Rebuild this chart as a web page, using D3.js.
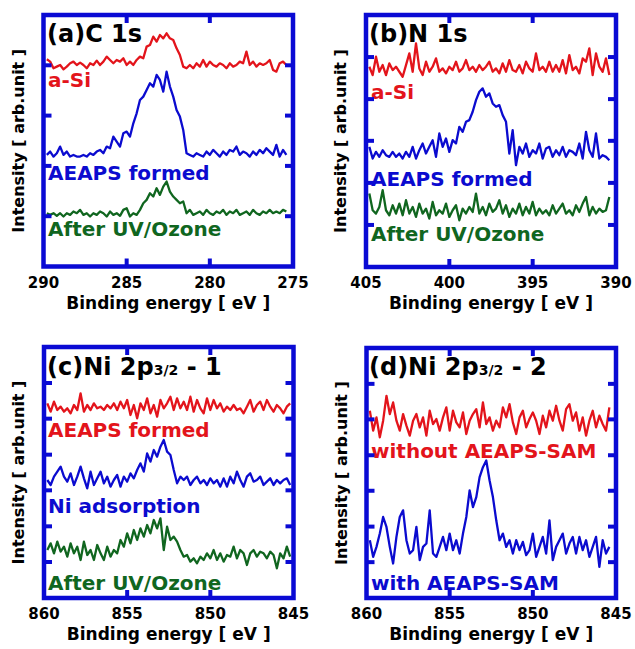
<!DOCTYPE html>
<html>
<head>
<meta charset="utf-8">
<script src="https://cdn.jsdelivr.net/npm/d3@7"></script>
<style>
  body { margin: 0; background: #fff; }
  text { font-family: "DejaVu Sans", sans-serif; font-weight: bold; }
</style>
</head>
<body>
<svg width="635" height="649"></svg>
<script>
// spectra, 0.2 eV steps starting at the left edge
var c1sASi = [622,615,595,600,605,592,600,610,615,605,
  612,605,595,610,605,618,605,615,630,620,
  610,620,615,625,605,615,605,620,630,625,
  660,665,690,675,695,685,700,685,680,655,
  635,600,595,605,595,610,600,620,600,615,
  605,600,610,605,595,610,600,605,615,610,
  645,605,615,600,610,605,610,620,590,585,
  610,615,605];
var c1sSAM = [335,345,330,340,360,335,345,330,335,330,
  330,335,330,340,335,345,350,340,360,355,
  390,375,360,400,405,390,430,460,500,510,
  530,550,540,575,560,525,585,540,510,470,
  450,410,340,335,330,340,335,330,345,335,
  350,340,330,345,335,350,345,360,335,345,
  340,330,345,335,350,340,355,345,335,365,
  330,350,335];
var c1sUV = [160,155,160,152,160,150,160,155,165,160,
  170,155,160,150,160,155,165,160,150,165,
  155,160,152,170,175,150,160,155,170,190,
  200,220,210,235,215,240,255,225,210,200,
  190,195,160,170,155,160,165,155,170,160,
  155,165,160,170,155,165,160,170,155,160,
  165,155,170,160,155,165,160,170,160,165,
  160,170,165];

var n1sASi = [600,575,630,585,605,575,610,590,600,585,
  570,605,640,585,670,595,575,615,585,600,
  625,585,595,580,600,590,615,585,595,620,
  590,600,585,605,590,600,615,585,595,580,
  610,585,620,590,585,605,580,615,595,585,
  640,590,600,585,615,585,605,585,620,580,
  635,590,600,580,625,615,655,575,640,600,
  585,625,575];
var n1sSAM = [360,325,345,330,350,335,330,345,330,340,
  325,345,330,360,325,350,370,340,360,380,
  330,400,360,385,345,380,370,420,405,435,
  440,465,500,525,535,510,520,490,480,485,
  455,435,340,410,305,360,340,370,330,350,
  340,370,325,355,360,330,350,335,360,330,
  350,345,335,370,325,405,350,330,400,325,
  335,330,320];
var n1sUV = [220,170,160,180,230,170,155,185,160,190,
  155,200,160,180,150,190,160,175,145,195,
  155,170,160,190,150,170,185,140,175,160,
  180,165,220,160,180,155,190,165,175,200,
  160,185,150,175,160,190,155,180,160,195,
  155,175,160,170,155,185,160,175,190,160,
  170,155,185,165,190,210,155,180,160,175,
  165,170,210];

var ni1SAM = [584,559,589,564,574,559,569,554,579,564,
  614,559,579,564,584,569,574,564,579,569,
  584,564,589,569,594,549,579,539,584,564,
  599,554,579,544,594,569,584,604,564,599,
  569,589,564,604,559,594,569,554,599,564,
  594,569,584,559,574,564,579,564,569,554,
  574,594,559,579,589,564,594,574,559,579,
  569,554,574,584];
var ni1Ads = [354,339,364,379,394,364,349,374,339,364,
  394,359,329,379,339,359,379,344,364,334,
  354,369,334,364,349,374,359,384,404,379,
  434,409,444,424,454,474,439,429,384,344,
  364,354,364,339,354,364,344,354,339,359,
  344,354,334,359,334,364,344,379,354,334,
  364,374,349,354,364,339,349,359,339,354,
  344,354,359,339];
var ni1UV = [144,164,134,169,139,154,124,164,134,154,
  114,169,129,144,114,159,134,114,154,124,
  144,134,174,154,194,164,204,174,209,184,
  219,194,234,209,239,144,214,174,184,169,
  144,124,129,109,119,104,124,114,134,119,
  144,114,134,109,129,124,154,119,144,134,
  99,134,144,124,139,134,119,139,129,89,
  134,119,154,124];

var ni2Without = [564,504,544,484,534,609,554,589,534,504,
  554,519,489,534,554,514,544,489,564,524,
  539,504,544,574,504,564,529,514,559,494,
  534,554,569,514,589,524,544,504,534,514,
  574,544,584,529,494,544,564,514,539,559,
  534,494,549,514,564,534,579,534,504,569,
  584,534,559,504,544,489,534,564,514,549,
  524,504,574];
var ni2With = [174,124,154,194,244,214,154,104,184,244,
  264,174,134,144,214,114,154,164,264,134,
  124,154,184,144,194,144,174,134,194,244,
  324,274,304,364,394,414,354,304,234,174,
  194,154,174,134,174,144,169,129,144,194,
  124,154,184,134,234,114,154,174,194,134,
  164,184,134,184,144,174,124,154,184,94,
  174,134,154];

var ticksC1s = [290, 285, 280, 275];
var ticksN1s = [405, 400, 395, 390];
var ticksNi = [860, 855, 850, 845];
var yTicksA = [151, 302, 453, 604];
var yTicksB = [126, 252, 378, 503, 629];
var yTicksCD = [108, 215, 323, 430, 538, 645];

var red = "#e3141b", blue = "#0b0bcf", green = "#10661f", frame = "#0a0ad4";
var step = 0.2;

var panels = [
  { x0: 43.5, x1: 293, y0: 15, y1: 266.5, start: 289.8, ymax: 755,
    xticks: ticksC1s, yticks: yTicksA, title: ["(a)C 1s"], tx: 47, ty: 42, lx: 48,
    series: [
      { v: c1sASi, c: red, label: "a-Si", ly: 87 },
      { v: c1sSAM, c: blue, label: "AEAPS formed", ly: 180 },
      { v: c1sUV, c: green, label: "After UV/Ozone", ly: 236 } ] },
  { x0: 366, x1: 616, y0: 15, y1: 267, start: 404.8, ymax: 755,
    xticks: ticksN1s, yticks: yTicksB, title: ["(b)N 1s"], tx: 369, ty: 42, lx: 371,
    series: [
      { v: n1sASi, c: red, label: "a-Si", ly: 99 },
      { v: n1sSAM, c: blue, label: "AEAPS formed", ly: 186 },
      { v: n1sUV, c: green, label: "After UV/Ozone", ly: 241 } ] },
  { x0: 44, x1: 293.5, y0: 347, y1: 598, start: 859.8, ymax: 753,
    xticks: ticksNi, yticks: yTicksCD, title: ["(c)Ni 2p", "3/2", " - 1"], tx: 47, ty: 375, lx: 48,
    series: [
      { v: ni1SAM, c: red, label: "AEAPS formed", ly: 437 },
      { v: ni1Ads, c: blue, label: "Ni adsorption", ly: 513 },
      { v: ni1UV, c: green, label: "After UV/Ozone", ly: 590 } ] },
  { x0: 366.5, x1: 616, y0: 348, y1: 598, start: 859.8, ymax: 753,
    xticks: ticksNi, yticks: yTicksCD, title: ["(d)Ni 2p", "3/2", " - 2"], tx: 369, ty: 375, lx: 371,
    series: [
      { v: ni2Without, c: red, label: "without AEAPS-SAM", ly: 458 },
      { v: ni2With, c: blue, label: "with AEAPS-SAM", ly: 590 } ] }
];

var svg = d3.select("svg");
svg.append("rect").attr("width", 635).attr("height", 649).attr("fill", "#fff");

panels.forEach(function(p) {
  var xs = p.xticks;
  var x = d3.scaleLinear().domain([xs[0], xs[xs.length - 1]]).range([p.x0, p.x1]);
  var y = d3.scaleLinear().domain([0, p.ymax]).range([p.y1, p.y0]);
  var g = svg.append("g");

  // title
  var t = g.append("text").attr("x", p.tx).attr("y", p.ty).attr("font-size", "24px").attr("fill", "#000");
  t.append("tspan").text(p.title[0]);
  if (p.title.length > 1) {
    t.append("tspan").attr("font-size", "14px").text(p.title[1]);
    t.append("tspan").text(p.title[2]);
  }

  // series labels
  p.series.forEach(function(s) {
    g.append("text")
     .attr("x", p.lx)
     .attr("y", s.ly)
     .attr("font-size", "20px")
     .attr("fill", s.c)
     .text(s.label);
  });

  // spectra
  p.series.forEach(function(s) {
    var line = d3.line()
      .x(function(d, i) { return x(p.start - i * step); })
      .y(function(d) { return y(d); });
    g.append("path")
     .datum(s.v)
     .attr("fill", "none")
     .attr("stroke", s.c)
     .attr("stroke-width", 2.3)
     .attr("stroke-linejoin", "round")
     .attr("d", line);
  });

  // inward ticks
  xs.slice(1, -1).forEach(function(v) {
    g.append("line").attr("x1", x(v)).attr("x2", x(v)).attr("y1", p.y1).attr("y2", p.y1 - 8)
     .attr("stroke", frame).attr("stroke-width", 4);
    g.append("line").attr("x1", x(v)).attr("x2", x(v)).attr("y1", p.y0).attr("y2", p.y0 + 8)
     .attr("stroke", frame).attr("stroke-width", 4);
  });
  p.yticks.forEach(function(v) {
    g.append("line").attr("x1", p.x0).attr("x2", p.x0 + 8).attr("y1", y(v)).attr("y2", y(v))
     .attr("stroke", frame).attr("stroke-width", 4);
    g.append("line").attr("x1", p.x1).attr("x2", p.x1 - 8).attr("y1", y(v)).attr("y2", y(v))
     .attr("stroke", frame).attr("stroke-width", 4);
  });

  g.append("rect")
   .attr("x", p.x0).attr("y", p.y0)
   .attr("width", p.x1 - p.x0).attr("height", p.y1 - p.y0)
   .attr("fill", "none").attr("stroke", frame).attr("stroke-width", 4.5);

  // tick labels + axis titles
  g.selectAll(".tl").data(xs).enter().append("text")
   .attr("x", function(d) { return x(d); })
   .attr("y", p.y1 + 21)
   .attr("text-anchor", "middle")
   .attr("font-size", "15px")
   .text(function(d) { return d; });

  g.append("text")
   .attr("x", (p.x0 + p.x1) / 2)
   .attr("y", p.y1 + 42)
   .attr("text-anchor", "middle")
   .attr("font-size", "17px")
   .text("Binding energy [ eV ]");

  g.append("text")
   .attr("transform", "translate(" + (p.x0 - 20) + "," + ((p.y0 + p.y1) / 2) + ") rotate(-90)")
   .attr("text-anchor", "middle")
   .attr("font-size", "16px")
   .text("Intensity [ arb.unit ]");
});
</script>
</body>
</html>
